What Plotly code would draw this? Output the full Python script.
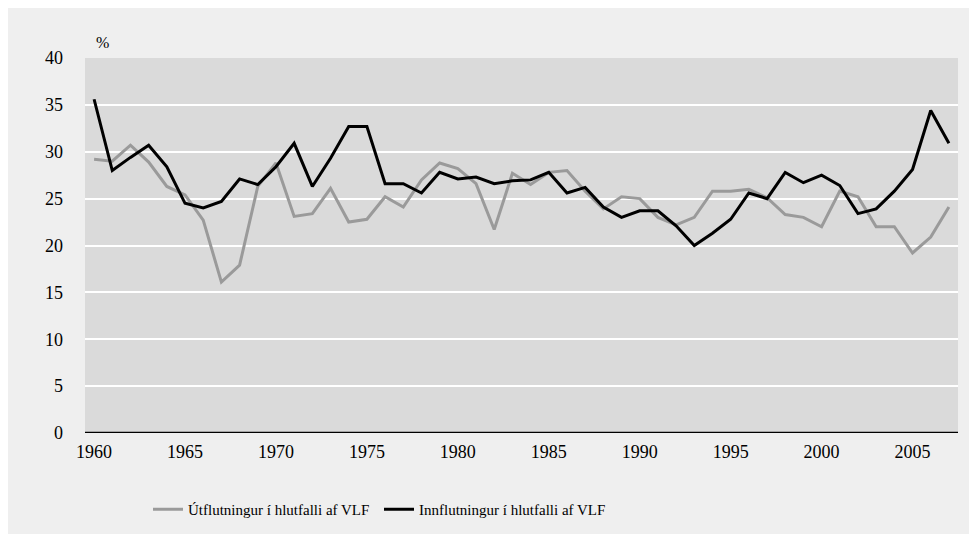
import plotly.graph_objects as go

years = list(range(1960, 2008))
utflutningur = [29.2, 29.0, 30.7, 28.9, 26.3, 25.4, 22.7, 16.1, 17.9, 26.3,
                28.8, 23.1, 23.4, 26.1, 22.5, 22.8, 25.2, 24.1, 27.0, 28.8,
                28.2, 26.6, 21.7, 27.7, 26.5, 27.8, 28.0, 25.8, 23.9, 25.2,
                25.0, 23.0, 22.2, 23.0, 25.8, 25.8, 26.0, 25.1, 23.3, 23.0,
                22.0, 25.8, 25.2, 22.0, 22.0, 19.2, 20.9, 24.1]
innflutningur = [35.6, 28.0, 29.4, 30.7, 28.4, 24.5, 24.0, 24.7, 27.1, 26.5,
                 28.4, 30.9, 26.3, 29.3, 32.7, 32.7, 26.6, 26.6, 25.6, 27.8,
                 27.1, 27.3, 26.6, 26.9, 27.0, 27.8, 25.6, 26.2, 24.1, 23.0,
                 23.7, 23.7, 22.1, 20.0, 21.3, 22.8, 25.6, 25.0, 27.8, 26.7,
                 27.5, 26.4, 23.4, 23.9, 25.8, 28.1, 34.4, 30.9]
series_names = ["Útflutningur í hlutfalli af VLF", "Innflutningur í hlutfalli af VLF"]
x_ticks = [1960, 1965, 1970, 1975, 1980, 1985, 1990, 1995, 2000, 2005]
y_ticks = [0, 5, 10, 15, 20, 25, 30, 35, 40]

font_family = "Liberation Serif"

fig = go.Figure()
fig.add_trace(go.Scatter(x=years, y=utflutningur, mode="lines", name=series_names[0],
                         line=dict(color="#9a9a9a", width=3)))
fig.add_trace(go.Scatter(x=years, y=innflutningur, mode="lines", name=series_names[1],
                         line=dict(color="#000000", width=3)))

W, H = 977, 534
L, R, T, B = 77, 27, 50, 109
pw, ph = W - L - R, H - T - B

fig.update_layout(
    width=W, height=H,
    margin=dict(l=L, r=R, t=T, b=B),
    paper_bgcolor="#efefef",
    plot_bgcolor="#dadada",
    font=dict(family=font_family, size=18, color="#000000"),
    showlegend=True,
    legend=dict(orientation="h", x=(140 - L) / pw, xanchor="left", y=-(60 / ph), yanchor="top",
                font=dict(family=font_family, size=15), bgcolor="rgba(0,0,0,0)",
                traceorder="normal", entrywidth=186),
    xaxis=dict(range=[1959.5, 2007.5], tickvals=x_ticks, ticktext=[str(v) for v in x_ticks],
               showgrid=False, zeroline=False, showline=False, ticks="", ticklabelstandoff=6,
               automargin=False, tickfont=dict(family=font_family, size=18)),
    yaxis=dict(range=[0, 40], tickvals=y_ticks, showgrid=True, gridcolor="white", gridwidth=2,
               zeroline=False, showline=False, ticks="", ticklabelstandoff=21,
               automargin=False, tickfont=dict(family=font_family, size=18)),
    shapes=[
        dict(type="line", xref="paper", yref="y", x0=0, x1=1, y0=0, y1=0,
             line=dict(color="black", width=2.5), layer="above"),
    ],
    annotations=[dict(text="%", xref="paper", yref="paper", x=(94 - L) / pw, y=(H - B - 34) / ph,
                      showarrow=False, font=dict(family=font_family, size=16),
                      xanchor="center", yanchor="middle")],
)

fig.write_html("out.html")
